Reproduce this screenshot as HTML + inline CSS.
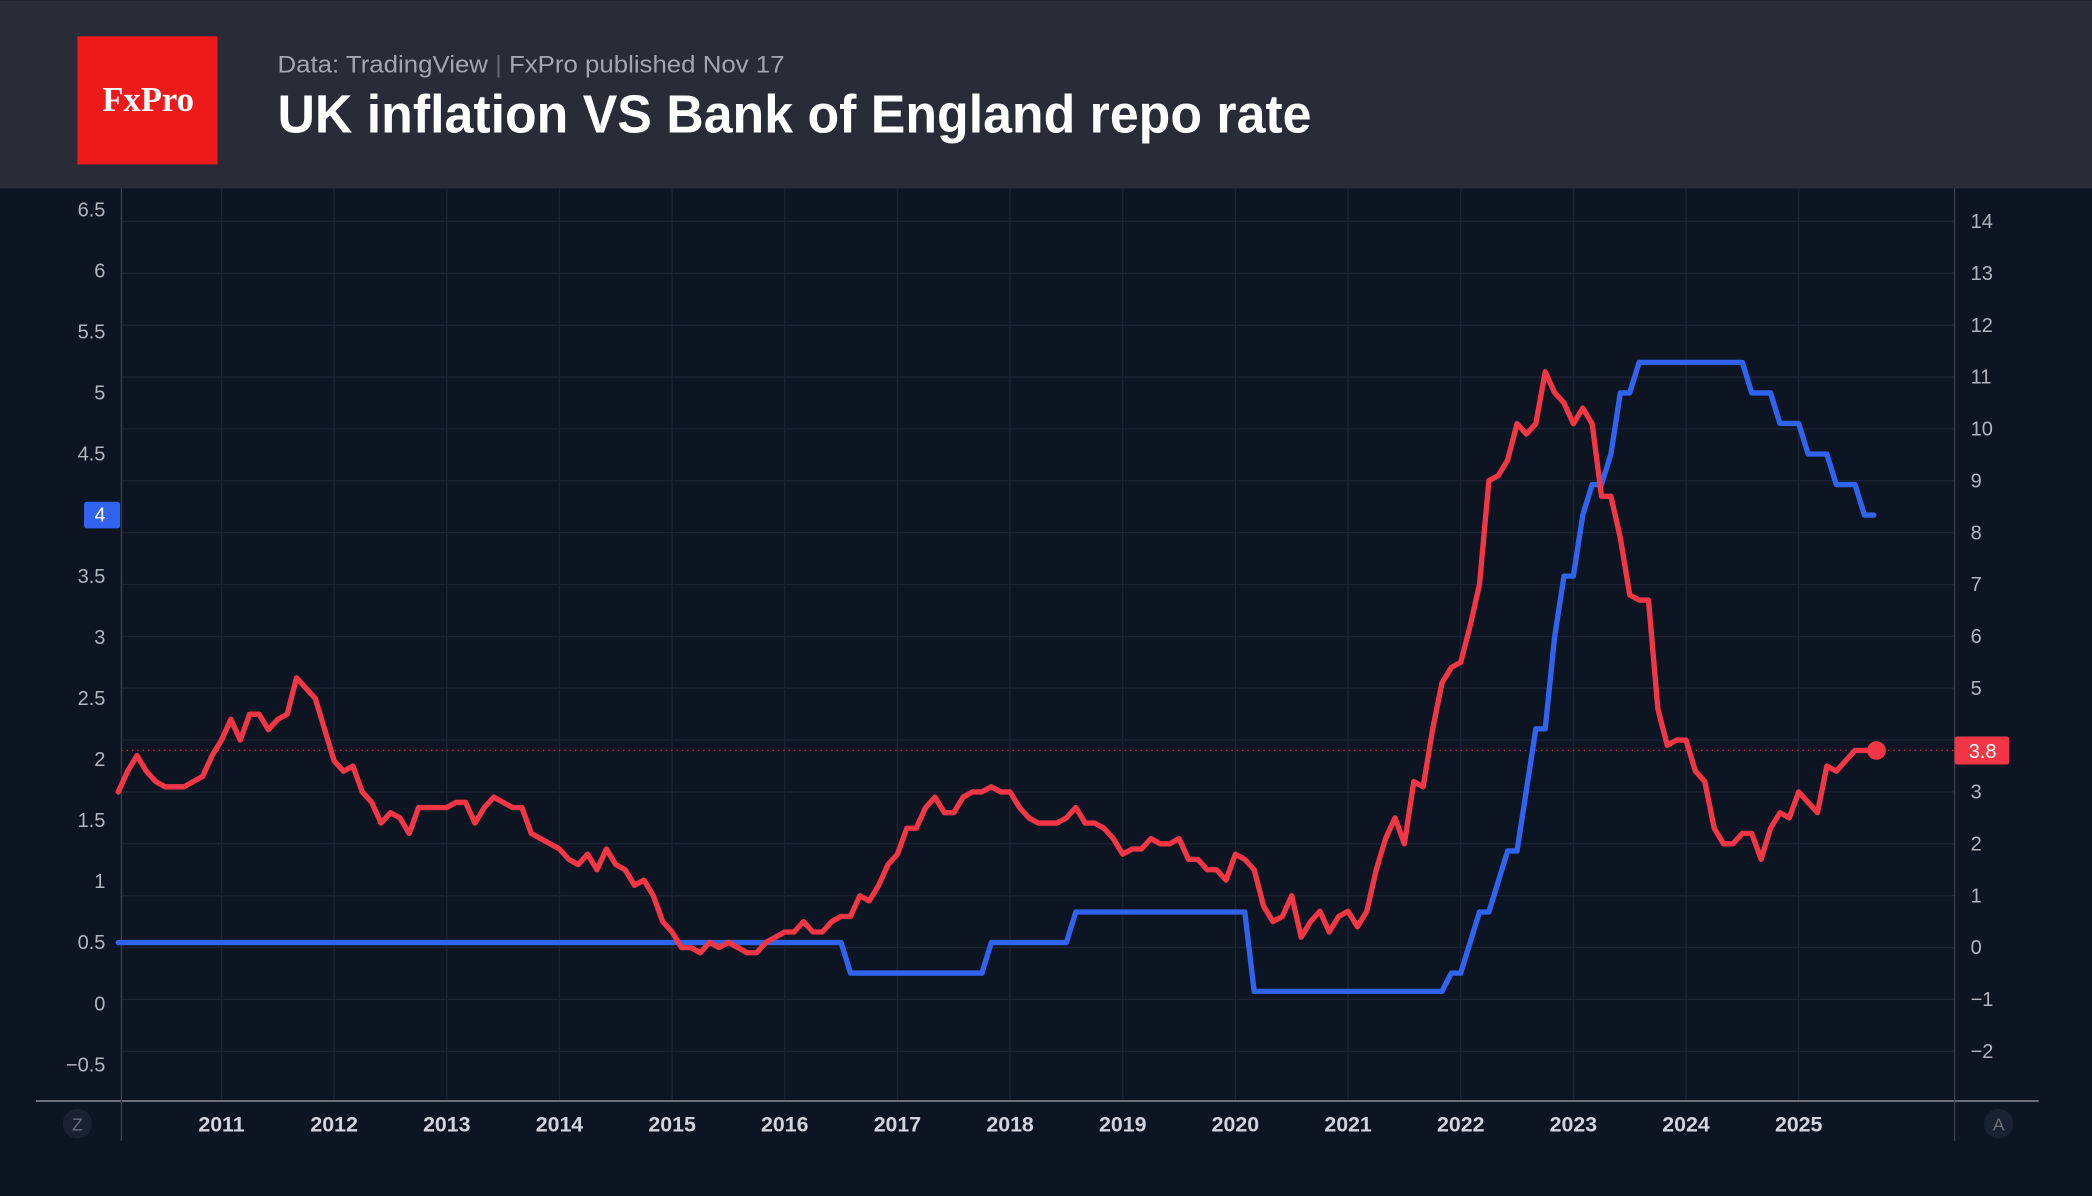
<!DOCTYPE html>
<html><head><meta charset="utf-8">
<style>
html,body{margin:0;padding:0;background:#0d1522;}
svg{display:block;}
text{font-family:"Liberation Sans",sans-serif;}
</style></head>
<body>
<svg id="chart" width="2092" height="1196" viewBox="0 0 1568 896" xmlns="http://www.w3.org/2000/svg">
<rect x="0" y="0" width="1568" height="896" fill="#0d1522"/>
<rect x="0" y="0" width="1568" height="141" fill="#292c37"/>
<g>
<rect x="58" y="27" width="105" height="96" fill="#ee1a1a"/>
<text x="111" y="83" text-anchor="middle" fill="#fff" font-size="26" font-weight="bold" style="font-family:'Liberation Serif',serif">FxPro</text>
</g>
<text x="208" y="54" fill="#a3a6b0" font-size="18" textLength="380" lengthAdjust="spacingAndGlyphs">Data: TradingView <tspan fill="#666a75">|</tspan> FxPro published Nov 17</text>
<text x="208" y="99" fill="#ffffff" font-size="40" font-weight="bold" textLength="775" lengthAdjust="spacingAndGlyphs">UK inflation VS Bank of England repo rate</text>
<g id="grid"></g>
<g id="axes"></g>
<g id="series"></g>
<g id="labels"></g>
</svg>
<script>
// Data (monthly, starting Feb 2010)
const startYear = 2010, startMonth = 2;
const cpi2010 = [3.0,3.4,3.7,3.4,3.2,3.1,3.1,3.1,3.2,3.3,3.7];
const cpi2011 = [4.0,4.4,4.0,4.5,4.5,4.2,4.4,4.5,5.2,5.0,4.8,4.2];
const cpi2012 = [3.6,3.4,3.5,3.0,2.8,2.4,2.6,2.5,2.2,2.7,2.7,2.7];
const cpi2013 = [2.7,2.8,2.8,2.4,2.7,2.9,2.8,2.7,2.7,2.2,2.1,2.0];
const cpi2014 = [1.9,1.7,1.6,1.8,1.5,1.9,1.6,1.5,1.2,1.3,1.0,0.5];
const cpi2015 = [0.3,0.0,0.0,-0.1,0.1,0.0,0.1,0.0,-0.1,-0.1,0.1,0.2];
const cpi2016 = [0.3,0.3,0.5,0.3,0.3,0.5,0.6,0.6,1.0,0.9,1.2,1.6];
const cpi2017 = [1.8,2.3,2.3,2.7,2.9,2.6,2.6,2.9,3.0,3.0,3.1,3.0];
const cpi2018 = [3.0,2.7,2.5,2.4,2.4,2.4,2.5,2.7,2.4,2.4,2.3,2.1];
const cpi2019 = [1.8,1.9,1.9,2.1,2.0,2.0,2.1,1.7,1.7,1.5,1.5,1.3];
const cpi2020 = [1.8,1.7,1.5,0.8,0.5,0.6,1.0,0.2,0.5,0.7,0.3,0.6];
const cpi2021 = [0.7,0.4,0.7,1.5,2.1,2.5,2.0,3.2,3.1,4.2,5.1,5.4];
const cpi2022 = [5.5,6.2,7.0,9.0,9.1,9.4,10.1,9.9,10.1,11.1,10.7,10.5];
const cpi2023 = [10.1,10.4,10.1,8.7,8.7,7.9,6.8,6.7,6.7,4.6,3.9,4.0];
const cpi2024 = [4.0,3.4,3.2,2.3,2.0,2.0,2.2,2.2,1.7,2.3,2.6,2.5];
const cpi2025 = [3.0,2.8,2.6,3.5,3.4,3.6,3.8,3.8,3.8];
const inflation = [].concat(cpi2010,cpi2011,cpi2012,cpi2013,cpi2014,cpi2015,cpi2016,cpi2017,cpi2018,cpi2019,cpi2020,cpi2021,cpi2022,cpi2023,cpi2024,cpi2025);

const rate2010 = [0.5,0.5,0.5,0.5,0.5,0.5,0.5,0.5,0.5,0.5,0.5];
const rate2011 = [0.5,0.5,0.5,0.5,0.5,0.5,0.5,0.5,0.5,0.5,0.5,0.5];
const rate2012 = [0.5,0.5,0.5,0.5,0.5,0.5,0.5,0.5,0.5,0.5,0.5,0.5];
const rate2013 = [0.5,0.5,0.5,0.5,0.5,0.5,0.5,0.5,0.5,0.5,0.5,0.5];
const rate2014 = [0.5,0.5,0.5,0.5,0.5,0.5,0.5,0.5,0.5,0.5,0.5,0.5];
const rate2015 = [0.5,0.5,0.5,0.5,0.5,0.5,0.5,0.5,0.5,0.5,0.5,0.5];
const rate2016 = [0.5,0.5,0.5,0.5,0.5,0.5,0.5,0.25,0.25,0.25,0.25,0.25];
const rate2017 = [0.25,0.25,0.25,0.25,0.25,0.25,0.25,0.25,0.25,0.25,0.5,0.5];
const rate2018 = [0.5,0.5,0.5,0.5,0.5,0.5,0.5,0.75,0.75,0.75,0.75,0.75];
const rate2019 = [0.75,0.75,0.75,0.75,0.75,0.75,0.75,0.75,0.75,0.75,0.75,0.75];
const rate2020 = [0.75,0.75,0.1,0.1,0.1,0.1,0.1,0.1,0.1,0.1,0.1,0.1];
const rate2021 = [0.1,0.1,0.1,0.1,0.1,0.1,0.1,0.1,0.1,0.1,0.1,0.25];
const rate2022 = [0.25,0.5,0.75,0.75,1.0,1.25,1.25,1.75,2.25,2.25,3.0,3.5];
const rate2023 = [3.5,4.0,4.25,4.25,4.5,5.0,5.0,5.25,5.25,5.25,5.25,5.25];
const rate2024 = [5.25,5.25,5.25,5.25,5.25,5.25,5.25,5.0,5.0,5.0,4.75,4.75];
const rate2025 = [4.75,4.5,4.5,4.5,4.25,4.25,4.25,4.0,4.0];
const repoRate = [].concat(rate2010,rate2011,rate2012,rate2013,rate2014,rate2015,rate2016,rate2017,rate2018,rate2019,rate2020,rate2021,rate2022,rate2023,rate2024,rate2025);

const yearLabels = ["2011","2012","2013","2014","2015","2016","2017","2018","2019","2020","2021","2022","2023","2024","2025"];
const leftTicks = [6.5,6,5.5,5,4.5,3.5,3,2.5,2,1.5,1,0.5,0,-0.5];
const rightTicks = [14,13,12,11,10,9,8,7,6,5,3,2,1,0,-1,-2];

const NS = "http://www.w3.org/2000/svg";
const PL = 91, PR = 1465, PT = 141, PB = 825;
function xTime(t){ return 166 + (t - 2011) * 84.44; }
function yLeft(v){ return 752 - v * 91.54; }
function yRight(v){ return 710 - v * 38.875; }
function monthT(i){ const m = startMonth - 1 + i; return startYear + m / 12; }
function mk(tag, attrs, parent){ const e = document.createElementNS(NS, tag); for (const k in attrs) e.setAttribute(k, attrs[k]); parent.appendChild(e); return e; }

const grid = document.getElementById('grid');
const axes = document.getElementById('axes');
const series = document.getElementById('series');
const labels = document.getElementById('labels');

rightTicks.concat([4]).forEach(v => {
  const l = mk('line', {x1:PL, x2:PR, y1:yRight(v), y2:yRight(v), stroke:'#1c2434', 'stroke-width':1}, grid);
  
  
});
yearLabels.forEach(y => {
  const x = xTime(+y);
  const l = mk('line', {x1:x, x2:x, y1:PT, y2:PB, stroke:'#1c2434', 'stroke-width':1}, grid);
  
  
  const t = mk('text', {x:x, y:848, 'text-anchor':'middle', fill:'#d1d4dc', 'font-size':16, 'font-weight':'bold'}, labels);
  t.textContent = y;
  
  
});

let a;
a = mk('line', {x1:27, x2:1528, y1:PB, y2:PB, stroke:'#6d7079', 'stroke-width':1.5}, axes);
 
a = mk('line', {x1:PL, x2:PL, y1:PT, y2:855, stroke:'#3a3f4b', 'stroke-width':1}, axes);
 
a = mk('line', {x1:PR, x2:PR, y1:PT, y2:855, stroke:'#3a3f4b', 'stroke-width':1}, axes);
 

leftTicks.forEach(v => {
  const t = mk('text', {x:79, y:yLeft(v) + 5, 'text-anchor':'end', fill:'#b2b5be', 'font-size':15}, labels);
  t.textContent = (v < 0 ? '\u2212' + Math.abs(v) : String(v));
  
  
});
rightTicks.forEach(v => {
  const t = mk('text', {x:1477, y:yRight(v) + 5, 'text-anchor':'start', fill:'#b2b5be', 'font-size':15}, labels);
  t.textContent = (v < 0 ? '\u2212' + Math.abs(v) : String(v));
  
  
});

const lastInf = inflation[inflation.length - 1];
const lastRate = repoRate[repoRate.length - 1];
a = mk('line', {x1:PL, x2:PR, y1:yRight(lastInf), y2:yRight(lastInf), stroke:'#f23645', 'stroke-width':1, 'stroke-dasharray':'1 3', opacity:0.8}, series);
 

function path(arr, yf){ return arr.map((v,i) => (i ? 'L' : 'M') + xTime(monthT(i)).toFixed(2) + ' ' + yf(v).toFixed(2)).join(' '); }
const rp = mk('path', {d:path(repoRate, yLeft), fill:'none', stroke:'#2f63f0', 'stroke-width':4, 'stroke-linejoin':'round', 'stroke-linecap':'round'}, series);
 
const ip = mk('path', {d:path(inflation, yRight), fill:'none', stroke:'#f23645', 'stroke-width':4, 'stroke-linejoin':'round', 'stroke-linecap':'round'}, series);
 
const dot = mk('circle', {cx:xTime(monthT(inflation.length - 1)) + 2, cy:yRight(lastInf), r:7, fill:'#f23645'}, series);
 

const lb = mk('g', {}, labels);
 
mk('rect', {x:63, y:yLeft(lastRate) - 10, width:27, height:20, rx:2, fill:'#2f63f0'}, lb);
const lt = mk('text', {x:75, y:yLeft(lastRate) + 5, 'text-anchor':'middle', fill:'#fff', 'font-size':15}, lb);
lt.textContent = String(lastRate);
const rb = mk('g', {}, labels);
 
mk('rect', {x:1465, y:yRight(lastInf) - 10.5, width:41, height:21, rx:2, fill:'#f23645'}, rb);
const rt = mk('text', {x:1486, y:yRight(lastInf) + 5.5, 'text-anchor':'middle', fill:'#fff', 'font-size':15}, rb);
rt.textContent = String(lastInf);

[[58,'Z','zoom-toggle-button'],[1498,'A','auto-scale-button']].forEach(b => {
  const g = mk('g', {}, labels);
  
  
  mk('circle', {cx:b[0], cy:842, r:11, fill:'#1a2130'}, g);
  const t = mk('text', {x:b[0], y:847, 'text-anchor':'middle', fill:'#6d7079', 'font-size':13}, g);
  t.textContent = b[1];
});
</script>
</body></html>
